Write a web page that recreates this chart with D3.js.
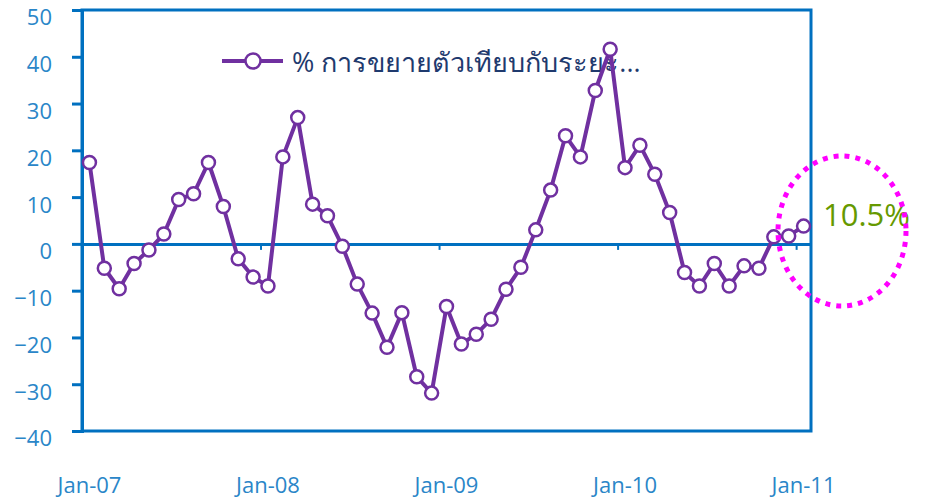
<!DOCTYPE html>
<html>
<head>
<meta charset="utf-8">
<script src="https://cdn.jsdelivr.net/npm/d3@7"></script>
<style>
  body { margin: 0; background: #fff; }
  svg { display: block; }
  svg text { font-family: "Open Sans", "Noto Sans", sans-serif; }
</style>
</head>
<body>
<script>
// monthly data Jan-07 .. Jan-11 (49 months)
var months = d3.range(49);
var growth = [17.4, -5.2, -9.6, -4.2, -1.3, 2.1, 9.5, 10.7, 17.4, 8.0, -3.2, -7.1,
              -9.0, 18.6, 27.0, 8.5, 6.0, -0.5, -8.6, -14.8, -22.1, -14.7, -28.4, -31.9,
              -13.4, -21.4, -19.3, -16.1, -9.7, -5.0, 3.0, 11.5, 23.1, 18.6, 32.8, 41.6,
              16.3, 21.1, 14.9, 6.7, -6.1, -9.0, -4.2, -9.0, -4.7, -5.2, 1.5, 1.7, 3.8];
var xTickIdx = [0, 12, 24, 36, 48];
var xTickLabels = ["Jan-07", "Jan-08", "Jan-09", "Jan-10", "Jan-11"];
var yTicks = [-40, -30, -20, -10, 0, 10, 20, 30, 40, 50];
var seriesName = "% การขยายตัวเทียบกับระยะ...";
var noteText = "10.5%";

var W = 933, H = 503;
var margin = {top: 10, right: 122, bottom: 72, left: 82};
var axisCol = "#0070c0", lineCol = "#7030a0";

var svg = d3.select("body").append("svg")
    .attr("width", W)
    .attr("height", H);

//Skalen
var x = d3.scaleBand()
    .domain(months)
    .range([margin.left, W - margin.right])
    .padding(0);

var xEdge = d3.scaleLinear()
    .domain([0, months.length])
    .range([margin.left, W - margin.right]);

var y = d3.scaleLinear()
    .domain([-40, 50])
    .range([H - margin.bottom, margin.top]);

//Rahmen
svg.append("rect")
    .attr("x", margin.left)
    .attr("y", margin.top)
    .attr("width", W - margin.left - margin.right)
    .attr("height", H - margin.top - margin.bottom)
    .attr("fill", "none")
    .attr("stroke", axisCol)
    .attr("stroke-width", 3);

//Y Achse
var yAxis = svg.append("g")
    .attr("transform", "translate(" + margin.left + ",0)")
    .call(d3.axisLeft(y).tickValues(yTicks).tickSize(10).tickPadding(20));
yAxis.select(".domain").attr("stroke", axisCol).attr("stroke-width", 3);
yAxis.selectAll(".tick line").attr("stroke", axisCol).attr("stroke-width", 3);
yAxis.selectAll(".tick text")
    .attr("fill", "#2a86c8")
    .style("font-size", "22px")
    .attr("dy", "0.68em");

//Nulllinie mit Ticks
var zeroAxis = svg.append("g")
    .attr("transform", "translate(0," + y(0) + ")")
    .call(d3.axisBottom(xEdge).tickValues([12, 24, 36, 48]).tickSize(6).tickSizeOuter(0).tickFormat(""));
zeroAxis.select(".domain").attr("stroke", axisCol).attr("stroke-width", 3);
zeroAxis.selectAll(".tick line").attr("stroke", axisCol).attr("stroke-width", 2);

//X Beschriftung unten
var xAxis = svg.append("g")
    .attr("transform", "translate(0," + (H - margin.bottom) + ")")
    .call(d3.axisBottom(x).tickValues(xTickIdx).tickSize(0).tickPadding(46)
        .tickFormat(function(d) { return xTickLabels[xTickIdx.indexOf(d)]; }));
xAxis.select(".domain").remove();
xAxis.selectAll(".tick text")
    .attr("fill", "#2a86c8")
    .style("font-size", "22px");

//Legende
var lg = svg.append("g");
lg.append("line")
    .attr("x1", 222).attr("x2", 283)
    .attr("y1", 61).attr("y2", 61)
    .attr("stroke", lineCol)
    .attr("stroke-width", 4);
lg.append("circle")
    .attr("cx", 253).attr("cy", 61).attr("r", 7.5)
    .attr("fill", "#fff")
    .attr("stroke", lineCol)
    .attr("stroke-width", 2.5);
lg.append("text")
    .attr("x", 292).attr("y", 72)
    .attr("fill", "#1f3a6e")
    .style("font-size", "27px")
    .text(seriesName);

//Linie
var line = d3.line()
    .x(function(d, i) { return x(i) + x.bandwidth() / 2; })
    .y(function(d) { return y(d); });

svg.append("path")
    .datum(growth)
    .attr("d", line)
    .attr("fill", "none")
    .attr("stroke", lineCol)
    .attr("stroke-width", 4)
    .attr("stroke-linejoin", "round");

svg.selectAll("circle.pt")
    .data(growth)
    .enter().append("circle")
    .attr("class", "pt")
    .attr("cx", function(d, i) { return x(i) + x.bandwidth() / 2; })
    .attr("cy", function(d) { return y(d); })
    .attr("r", 6.5)
    .attr("fill", "#fff")
    .attr("stroke", lineCol)
    .attr("stroke-width", 2.5);

//Anmerkung
svg.append("text")
    .attr("x", 823).attr("y", 226)
    .attr("fill", "#669900")
    .style("font-size", "31px")
    .text(noteText);

svg.append("ellipse")
    .attr("cx", 842).attr("cy", 231)
    .attr("rx", 64).attr("ry", 75)
    .attr("fill", "none")
    .attr("stroke", "#ff00ff")
    .attr("stroke-width", 5)
    .attr("stroke-dasharray", "5,6");
</script>
</body>
</html>
